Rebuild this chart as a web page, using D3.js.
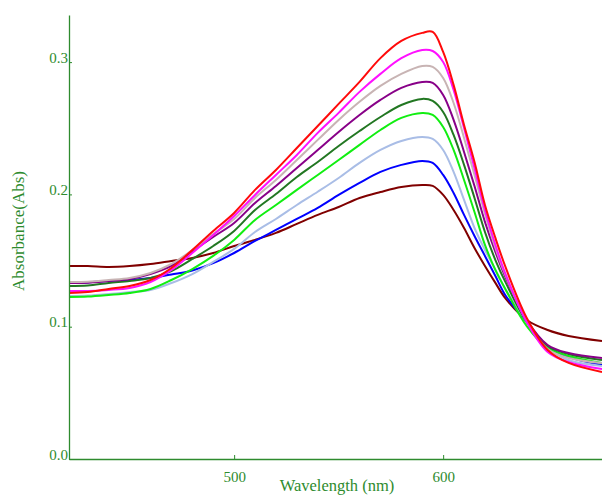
<!DOCTYPE html>
<html>
<head>
<meta charset="utf-8">
<script src="https://cdn.jsdelivr.net/npm/d3@7"></script>
<style>
  body { margin: 0; background: #fff; }
  svg { display: block; font-family: "Liberation Serif", "Times New Roman", serif; }
</style>
</head>
<body>
<div id="chart"></div>
<script>
// wavelength (nm)
const wavelengths = [421, 430, 440, 450, 460, 470, 480, 490, 500, 510, 520, 530, 540, 550, 560, 570, 580, 590, 595, 600, 605, 610, 615, 620, 625, 630, 640, 650, 660, 676];

// absorbance spectra, one array per trace
const redSeries = [0.1255, 0.1262, 0.1285, 0.1308, 0.1353, 0.1444, 0.1580, 0.1724, 0.1860, 0.2034, 0.2185, 0.2351, 0.2517, 0.2684, 0.2850, 0.3030, 0.3160, 0.3221, 0.3228, 0.3077, 0.2828, 0.2525, 0.2245, 0.1920, 0.1671, 0.1444, 0.1066, 0.0824, 0.0726, 0.0658];
const magentaSeries = [0.1270, 0.1270, 0.1278, 0.1293, 0.1338, 0.1429, 0.1557, 0.1693, 0.1837, 0.1996, 0.2147, 0.2298, 0.2465, 0.2616, 0.2775, 0.2911, 0.3030, 0.3092, 0.3084, 0.3001, 0.2790, 0.2502, 0.2200, 0.1882, 0.1618, 0.1391, 0.1036, 0.0809, 0.0733, 0.0680];
const greySeries = [0.1338, 0.1340, 0.1353, 0.1368, 0.1406, 0.1474, 0.1580, 0.1700, 0.1814, 0.1973, 0.2109, 0.2260, 0.2412, 0.2563, 0.2700, 0.2820, 0.2911, 0.2971, 0.2964, 0.2880, 0.2691, 0.2427, 0.2147, 0.1852, 0.1595, 0.1383, 0.1043, 0.0832, 0.0764, 0.0726];
const purpleSeries = [0.1331, 0.1333, 0.1346, 0.1361, 0.1398, 0.1459, 0.1570, 0.1678, 0.1784, 0.1935, 0.2064, 0.2200, 0.2336, 0.2472, 0.2600, 0.2714, 0.2805, 0.2850, 0.2843, 0.2752, 0.2563, 0.2321, 0.2064, 0.1792, 0.1565, 0.1368, 0.1051, 0.0862, 0.0801, 0.0764];
const darkGreenSeries = [0.1308, 0.1312, 0.1331, 0.1346, 0.1368, 0.1421, 0.1512, 0.1610, 0.1724, 0.1882, 0.2003, 0.2132, 0.2245, 0.2366, 0.2479, 0.2585, 0.2676, 0.2722, 0.2706, 0.2623, 0.2449, 0.2223, 0.1973, 0.1716, 0.1504, 0.1331, 0.1036, 0.0854, 0.0794, 0.0748];
const greenSeries = [0.1225, 0.1228, 0.1240, 0.1255, 0.1285, 0.1353, 0.1436, 0.1535, 0.1656, 0.1807, 0.1920, 0.2034, 0.2147, 0.2260, 0.2374, 0.2487, 0.2578, 0.2616, 0.2601, 0.2510, 0.2336, 0.2109, 0.1867, 0.1618, 0.1429, 0.1278, 0.1005, 0.0839, 0.0779, 0.0726];
const lightBlueSeries = [0.1232, 0.1235, 0.1247, 0.1262, 0.1278, 0.1330, 0.1398, 0.1490, 0.1588, 0.1716, 0.1814, 0.1920, 0.2020, 0.2124, 0.2238, 0.2336, 0.2404, 0.2434, 0.2419, 0.2336, 0.2170, 0.1958, 0.1746, 0.1580, 0.1429, 0.1278, 0.1036, 0.0839, 0.0748, 0.0703];
const blueSeries = [0.1331, 0.1335, 0.1346, 0.1353, 0.1368, 0.1395, 0.1425, 0.1480, 0.1557, 0.1648, 0.1731, 0.1815, 0.1898, 0.1996, 0.2087, 0.2170, 0.2223, 0.2253, 0.2238, 0.2147, 0.2011, 0.1845, 0.1686, 0.1535, 0.1383, 0.1232, 0.1036, 0.0847, 0.0771, 0.0711];
const maroonSeries = [0.1459, 0.1459, 0.1452, 0.1459, 0.1474, 0.1497, 0.1520, 0.1557, 0.1610, 0.1656, 0.1709, 0.1777, 0.1845, 0.1905, 0.1973, 0.2018, 0.2056, 0.2071, 0.2064, 0.1996, 0.1882, 0.1746, 0.1595, 0.1459, 0.1331, 0.1210, 0.1051, 0.0975, 0.0930, 0.0892];

const xTicks = [500, 600];
const yTicks = [0, 0.1, 0.2, 0.3];

// drawing order: bottom trace first, red ends on top
const traces = [
    { values: maroonSeries, color: '#800000' },
    { values: blueSeries, color: '#0000ff' },
    { values: lightBlueSeries, color: '#a9bde6' },
    { values: greenSeries, color: '#11ee11' },
    { values: darkGreenSeries, color: '#227722' },
    { values: purpleSeries, color: '#880088' },
    { values: greySeries, color: '#c8b4b4' },
    { values: magentaSeries, color: '#ff10ff' },
    { values: redSeries, color: '#ff0a0a' }
];

const width = 602, height = 496;
const axisColor = '#2e8b2e';

const svg = d3.select('#chart').append('svg')
    .attr('width', width)
    .attr('height', height);

const x = d3.scaleLinear().domain([421, 676]).range([69, 602]);
const y = d3.scaleLinear().domain([0, 0.3356]).range([459, 15]);

svg.append('defs').append('clipPath').attr('id', 'plot')
    .append('rect').attr('x', 69).attr('y', 0).attr('width', 533).attr('height', 459);

const line = d3.line()
    .x((d, i) => x(wavelengths[i]))
    .y(d => y(d))
    .curve(d3.curveCatmullRom.alpha(0.5));

svg.append('g').attr('clip-path', 'url(#plot)')
    .selectAll('path')
    .data(traces)
    .enter().append('path')
    .attr('fill', 'none')
    .attr('stroke', d => d.color)
    .attr('stroke-width', 2)
    .attr('stroke-linejoin', 'round')
    .attr('d', d => line(d.values));

// x axis, ticks point up into the plot
const xAxis = svg.append('g')
    .attr('transform', 'translate(0,459)')
    .call(d3.axisBottom(x).tickValues(xTicks).tickSizeInner(-4).tickSizeOuter(0).tickPadding(12).tickFormat(d3.format('d')));

// y axis, short ticks on the inside
const yAxis = svg.append('g')
    .attr('transform', 'translate(69,0)')
    .call(d3.axisLeft(y).tickValues(yTicks).tickSizeInner(-3).tickSizeOuter(0).tickPadding(1).tickFormat(d3.format('.1f')));

yAxis.selectAll('text').attr('dy', '0');

[xAxis, yAxis].forEach(g => {
    g.select('.domain').attr('stroke', axisColor).attr('stroke-width', 1.3);
    g.selectAll('.tick line').attr('stroke', axisColor);
    g.selectAll('text')
        .attr('fill', axisColor)
        .style('font-family', '"Liberation Serif", serif')
        .style('font-size', '15px');
});

svg.append('text')
    .attr('transform', 'translate(24,231) rotate(-90)')
    .attr('text-anchor', 'middle')
    .attr('fill', axisColor)
    .style('font-size', '17px')
    .text('Absorbance(Abs)');

svg.append('text')
    .attr('x', 337)
    .attr('y', 491)
    .attr('text-anchor', 'middle')
    .attr('fill', axisColor)
    .style('font-size', '16.5px')
    .text('Wavelength (nm)');
</script>
</body>
</html>
